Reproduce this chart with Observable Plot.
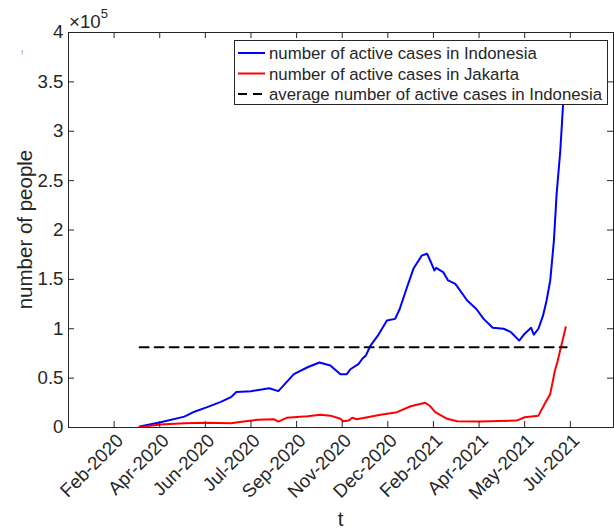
<!DOCTYPE html>
<html><head><meta charset="utf-8">
<script src="https://cdn.jsdelivr.net/npm/d3@7"></script>
<script src="https://cdn.jsdelivr.net/npm/@observablehq/plot@0.6"></script>
<style>body{margin:0;background:#fff}</style>
</head><body><div id="chart"></div>
<script>
// ---- data ----
const indonesiaDates = ["2020-03-28","2020-04-20","2020-05-16","2020-05-27","2020-06-10","2020-06-25","2020-07-06","2020-07-12","2020-07-28","2020-08-17","2020-08-27","2020-09-13","2020-09-28","2020-10-11","2020-10-23","2020-11-03","2020-11-10","2020-11-14","2020-11-23","2020-11-27","2020-12-01","2020-12-06","2020-12-14","2020-12-24","2021-01-02","2021-01-07","2021-01-15","2021-01-22","2021-01-31","2021-02-06","2021-02-11","2021-02-14","2021-02-16","2021-02-24","2021-03-01","2021-03-09","2021-03-22","2021-04-01","2021-04-09","2021-04-19","2021-05-01","2021-05-09","2021-05-18","2021-05-24","2021-05-31","2021-06-03","2021-06-08","2021-06-13","2021-06-17","2021-06-21","2021-06-25","2021-06-28","2021-07-02","2021-07-05","2021-07-08"];
const indonesiaActive = [1000,5400,11000,16000,20600,26000,30700,36000,36800,39800,36800,54000,61000,65800,62800,54000,54000,59000,64500,69600,73000,83000,93000,108400,110000,120000,142000,160700,174000,176000,165800,159000,161700,157000,148900,145500,128600,120000,110000,101000,100000,96500,88000,95000,101000,94000,100000,113000,128600,148900,189000,236600,280000,326000,350000];

const jakartaDates = ["2020-03-28","2020-04-20","2020-05-16","2020-06-10","2020-07-06","2020-07-20","2020-08-04","2020-08-22","2020-08-27","2020-09-05","2020-09-28","2020-10-12","2020-10-23","2020-11-03","2020-11-06","2020-11-12","2020-11-16","2020-11-21","2020-12-17","2021-01-04","2021-01-19","2021-02-04","2021-02-09","2021-02-15","2021-02-28","2021-03-11","2021-04-05","2021-05-15","2021-05-24","2021-06-08","2021-06-15","2021-06-21","2021-06-26","2021-06-29","2021-07-08"];
const jakartaActive = [500,3000,4400,4800,4400,6000,7800,8400,6000,9800,11400,13000,12000,8800,6400,7000,9800,8400,13000,15500,21500,25000,22000,15500,8800,6400,6000,7000,10400,12000,24000,34000,57000,67000,101600];

const averageDates = ["2020-03-28","2021-07-09"];
const averageIndonesia = [81300, 81300];

const xTickDates = ["2020-02-29","2020-04-19","2020-06-08","2020-07-28","2020-09-16","2020-11-05","2020-12-25","2021-02-13","2021-04-04","2021-05-24","2021-07-13"];
const xTickLabels = ["Feb-2020","Apr-2020","Jun-2020","Jul-2020","Sep-2020","Nov-2020","Dec-2020","Feb-2021","Apr-2021","May-2021","Jul-2021"];
const yTicks = [0,50000,100000,150000,200000,250000,300000,350000,400000];
const yTickLabels = ["0","0.5","1","1.5","2","2.5","3","3.5","4"];
const seriesNames = ["number of active cases in Indonesia","number of active cases in Jakarta","average number of active cases in Indonesia"];
const seriesColors = ["#0000ff","#ff0000","#000000"];
const xDomain = ["2020-01-10", "2021-08-29T08:00"];
const yDomain = [0, 400000];

// ---- build ----
const parse = s => new Date(s.length > 10 ? s + "Z" : s + "T00:00Z");
const blue = indonesiaDates.map((d,i)=>({date: parse(d), value: indonesiaActive[i]}));
const red = jakartaDates.map((d,i)=>({date: parse(d), value: jakartaActive[i]}));
const avg = averageDates.map((d,i)=>({date: parse(d), value: averageIndonesia[i]}));
const xTicks = xTickDates.map(parse);
const xLabelMap = new Map(xTicks.map((d,i)=>[+d, xTickLabels[i]]));
const yLabelMap = new Map(yTicks.map((d,i)=>[d, yTickLabels[i]]));

const W=614, H=531, mL=68, mR=1, mT=32, mB=104;
const innerW = W-mL-mR, innerH = H-mT-mB, tickLen = 6;
const axisColor = "#262626";
const font = "'Liberation Sans', Arial, Helvetica, sans-serif";

const svg = Plot.plot({
  width: W, height: H,
  marginLeft: mL, marginRight: mR, marginTop: mT, marginBottom: mB,
  style: {fontFamily: font, fontSize: "18.67px", color: axisColor, background: "white", overflow: "visible"},
  x: {type: "utc", domain: xDomain.map(parse)},
  y: {domain: yDomain},
  marks: [
    Plot.line(blue, {x: "date", y: "value", stroke: seriesColors[0], strokeWidth: 2}),
    Plot.line(red, {x: "date", y: "value", stroke: seriesColors[1], strokeWidth: 2}),
    Plot.line(avg, {x: "date", y: "value", stroke: seriesColors[2], strokeWidth: 2, strokeDasharray: "9,6"}),
    Plot.frame({stroke: axisColor, strokeWidth: 1}),
    Plot.ruleX(xTicks, {stroke: axisColor, insetTop: innerH - tickLen}),
    Plot.ruleX(xTicks, {stroke: axisColor, insetBottom: innerH - tickLen}),
    Plot.ruleY(yTicks, {stroke: axisColor, insetRight: innerW - tickLen}),
    Plot.ruleY(yTicks, {stroke: axisColor, insetLeft: innerW - tickLen}),
    Plot.axisX(xTicks, {tickSize: 0, tickPadding: 6, tickRotate: -45, dx: 6, dy: 4, tickFormat: d => xLabelMap.get(+d), label: null, fill: axisColor}),
    Plot.axisY(yTicks, {tickSize: 0, tickPadding: 5, tickFormat: d => yLabelMap.get(d), label: null, fill: axisColor})
  ]
});

const s = d3.select(svg);
// axis labels
s.append("text").attr("x", (mL + W - mR)/2).attr("y", 526).attr("text-anchor","middle")
  .attr("font-size","20.5px").attr("fill", axisColor).text("t");
s.append("text").attr("transform", `translate(32,${mT + innerH/2}) rotate(-90)`).attr("text-anchor","middle")
  .attr("font-size","20.5px").attr("fill", axisColor).text("number of people");
// exponent
const ex = s.append("text").attr("x", 69).attr("y", 28).attr("text-anchor","start").attr("font-size","18.67px").attr("fill", axisColor);
ex.append("tspan").text("×10");
ex.append("tspan").attr("dy", -10).attr("font-size","13px").text("5");
// stray mark
s.append("text").attr("x", 21).attr("y", 55).attr("text-anchor","start").attr("font-size","8px").attr("fill","#888").text("!");

// legend
const lg = s.append("g").attr("text-anchor","start");
lg.append("rect").attr("x", 234.5).attr("y", 40.5).attr("width", 373).attr("height", 64)
  .attr("fill","white").attr("stroke", axisColor).attr("stroke-width", 1);
const rows = [53, 73.5, 94];
seriesNames.forEach((name, i) => {
  const y = rows[i];
  lg.append("line").attr("x1", 238).attr("x2", 265).attr("y1", y).attr("y2", y)
    .attr("stroke", seriesColors[i]).attr("stroke-width", 2)
    .attr("stroke-dasharray", i === 2 ? "9,6" : null);
  lg.append("text").attr("x", 269).attr("y", y + 6).attr("text-anchor","start").attr("font-size","16.8px").attr("fill", axisColor).text(name);
});

document.getElementById("chart").appendChild(svg);
</script>
</body></html>
